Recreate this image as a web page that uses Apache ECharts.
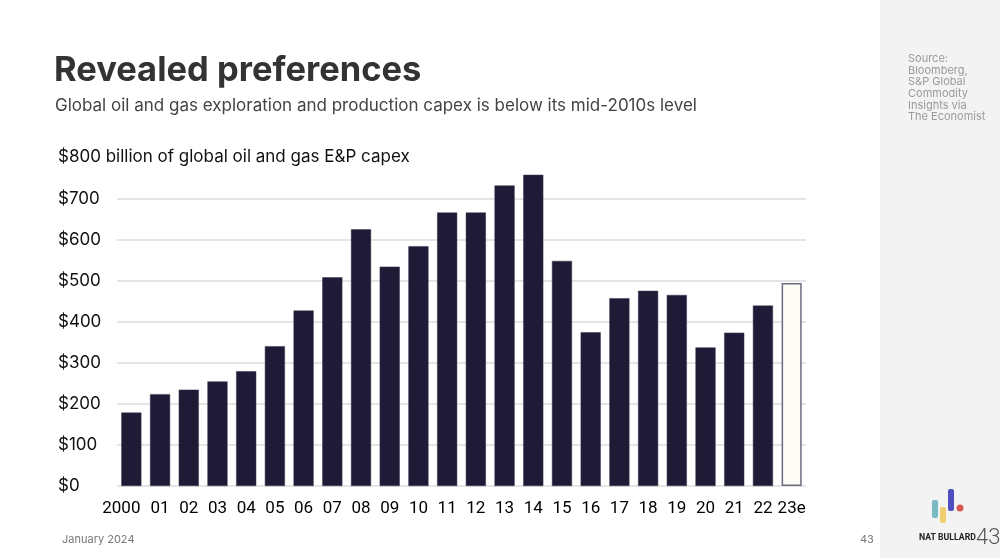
<!DOCTYPE html>
<html>
<head>
<meta charset="utf-8">
<script src="https://cdn.jsdelivr.net/npm/echarts@6/dist/echarts.min.js"></script>
<style>
html,body{margin:0;padding:0;background:#fff;}
#chart{width:1000px;height:558px;}
</style>
</head>
<body>
<div id="chart"></div>
<script>
const categories = ['2000','01','02','03','04','05','06','07','08','09','10','11','12','13','14','15','16','17','18','19','20','21','22','23e'];
const capex = [179,224,235,255,280,341,428,509,626,535,585,667,667,733,759,549,375,458,476,466,338,374,440,495];
const yTicks = [0,100,200,300,400,500,600,700];
const estimateIndex = 23;

const FONT = 'Inter, "Noto Sans", sans-serif';
const chart = echarts.init(document.getElementById('chart'), null, {renderer:'canvas'});

const barData = capex.map((v,i)=> i===estimateIndex
  ? {value:v, itemStyle:{color:'#fdfbf6', borderColor:'#6e6a80', borderWidth:1.5}}
  : {value:v});

chart.setOption({
  backgroundColor:'#ffffff',
  animation:false,
  grid:{left:117, right:194, top:199, bottom:72, containLabel:false},
  xAxis:{
    type:'category', data:categories,
    axisLine:{show:false}, axisTick:{show:false},
    axisLabel:{color:'#000', fontFamily:'Roboto, sans-serif', fontSize:17, margin:14, interval:0,
      formatter:(v,i)=> i===0 ? '{first|'+v+'}' : v,
      rich:{first:{fontFamily:'Roboto, sans-serif', fontSize:17, color:'#000', padding:[0,20,0,0]}}}
  },
  yAxis:{
    type:'value', min:yTicks[0], max:yTicks[yTicks.length-1], interval:100,
    axisLine:{show:false}, axisTick:{show:false},
    splitLine:{lineStyle:{color:'#dcdcdc', width:1.5}},
    axisLabel:{color:'#111', fontFamily:FONT, fontSize:17, align:'left', margin:59,
      formatter:v=>'$'+v}
  },
  series:[{
    type:'bar', data:barData, barCategoryGap:'30%', clip:false,
    itemStyle:{color:'#1f1b36', borderColor:'#3a3650', borderWidth:0.5}
  }],
  graphic:[
    {type:'rect', shape:{x:880,y:0,width:120,height:558}, style:{fill:'#f3f3f3'}, silent:true},
    {type:'text', left:54, top:53, style:{text:'Revealed preferences', font:'bold 34.5px '+FONT, fill:'#333333'}},
    {type:'text', left:55, top:97, style:{text:'Global oil and gas exploration and production capex is below its mid-2010s level', font:'17px '+FONT, fill:'#444444'}},
    {type:'text', left:58, top:148, style:{text:'$800 billion of global oil and gas E&P capex', font:'17px '+FONT, fill:'#111111'}},
    {type:'text', left:908, top:53, style:{text:'Source:\nBloomberg,\nS&P Global\nCommodity\nInsights via\nThe Economist', font:'11px '+FONT, fill:'#9a9a9a', lineHeight:11.6}},
    {type:'text', left:62, top:534, style:{text:'January 2024', font:'11px '+FONT, fill:'#777777'}},
    {type:'text', left:860, top:534, style:{text:'43', font:'11px '+FONT, fill:'#777777'}},
    {type:'rect', shape:{x:932,y:500,width:6,height:18,r:2}, style:{fill:'#79b9c2'}},
    {type:'rect', shape:{x:940,y:507,width:6,height:16,r:2}, style:{fill:'#efcf6f'}},
    {type:'rect', shape:{x:948,y:489,width:6,height:22,r:2}, style:{fill:'#4f4fc0'}},
    {type:'circle', shape:{cx:960,cy:508,r:3.5}, style:{fill:'#d65a50'}},
    {type:'text', left:919, top:533, style:{text:'NAT BULLARD', font:'bold 8.7px Roboto, sans-serif', fill:'#222222'}},
    {type:'text', left:976, top:527, style:{text:'43', font:'300 22px Roboto, sans-serif', fill:'#555555'}}
  ]
});
</script>
</body>
</html>
